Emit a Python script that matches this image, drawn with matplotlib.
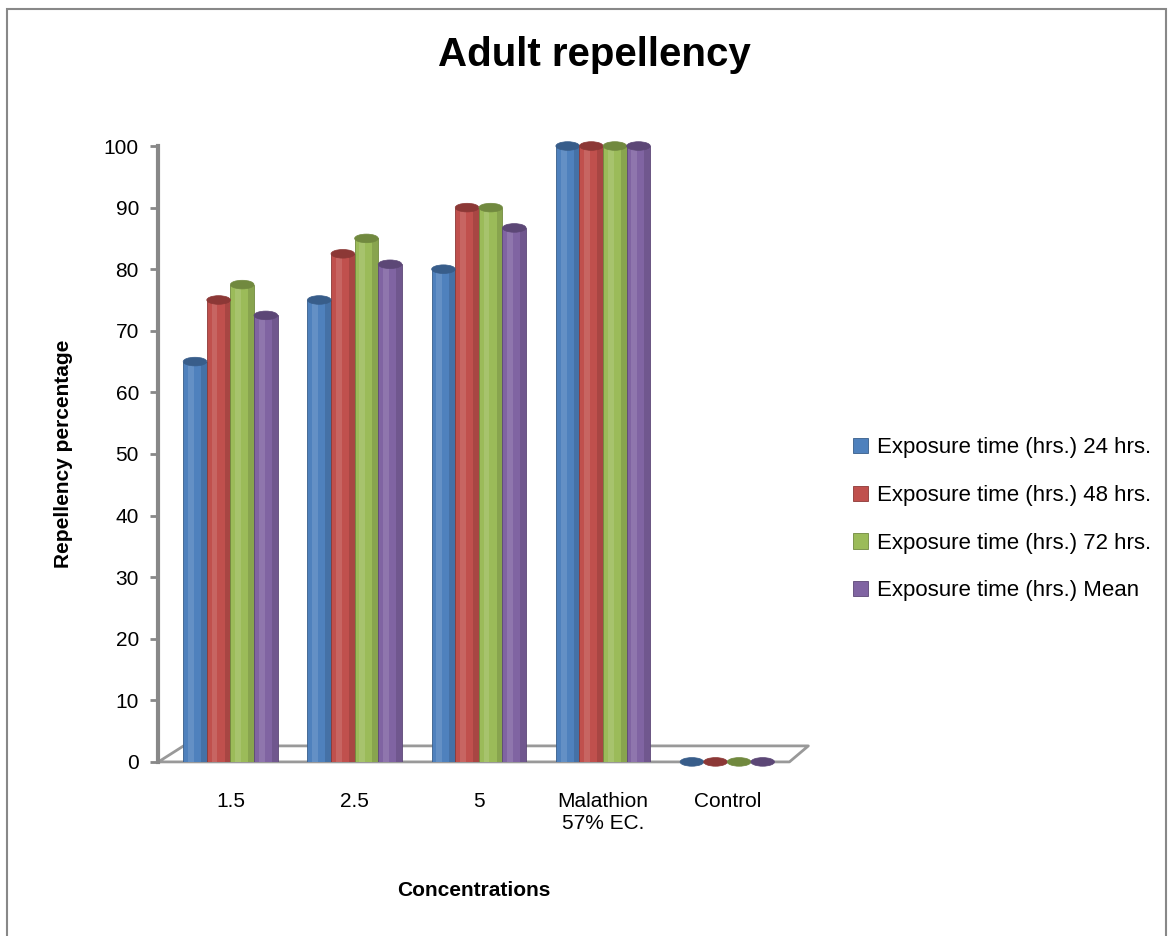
import numpy as np
import matplotlib
matplotlib.use("Agg")
import matplotlib.pyplot as plt
from matplotlib.patches import Ellipse, Rectangle

plt.rcParams['font.family'] = ['Liberation Sans Narrow', 'Liberation Sans', 'DejaVu Sans']

# data
categories = ['1.5', '2.5', '5', 'Malathion\n57% EC.', 'Control']
series_names = ['Exposure time (hrs.) 24 hrs.', 'Exposure time (hrs.) 48 hrs.',
                'Exposure time (hrs.) 72 hrs.', 'Exposure time (hrs.) Mean']
hrs_24 = [65, 75, 80, 100, 0]
hrs_48 = [75, 82.5, 90, 100, 0]
hrs_72 = [77.5, 85, 90, 100, 0]
hrs_mean = [72.5, 80.8, 86.7, 100, 0]
series = [hrs_24, hrs_48, hrs_72, hrs_mean]
colors = ['#4F81BD', '#C0504D', '#9BBB59', '#8064A2']
dark = ['#385D8A', '#8C3836', '#71893F', '#5C4776']

fig = plt.figure(figsize=(11.73, 9.36), dpi=100)
ax = fig.add_axes([0.135, 0.186, 0.538, 0.658])

x = np.arange(len(categories))
w = 0.19
for i, (vals, c, dc) in enumerate(zip(series, colors, dark)):
    pos = x + (i - 1.5) * w
    ax.bar(pos, vals, width=w, color=c, edgecolor=dc, linewidth=0.6,
           label=series_names[i], zorder=3)
    for p, v in zip(pos, vals):
        # highlight / shade strips for a cylindrical look
        ax.add_patch(Rectangle((p - w * 0.3, 0), w * 0.25, v, color='white',
                               alpha=0.12, lw=0, zorder=4))
        ax.add_patch(Rectangle((p + w * 0.25, 0), w * 0.25, v, color='black',
                               alpha=0.12, lw=0, zorder=4))
        ax.add_patch(Ellipse((p, v), w, 1.4, facecolor=dc, edgecolor=dc,
                             lw=0.5, zorder=5, clip_on=False))

ax.set_xlim(-0.58, 4.5)
ax.set_ylim(0, 100)
ax.set_yticks(range(0, 101, 10))
ax.tick_params(axis='y', labelsize=15, length=6, width=2, color='#888888', pad=8)
ax.tick_params(axis='x', length=0, labelsize=15, pad=22)
ax.set_xticks(x)
ax.set_xticklabels(categories)

for s in ['top', 'right', 'bottom']:
    ax.spines[s].set_visible(False)
ax.spines['left'].set_color('#888888')
ax.spines['left'].set_linewidth(3)

# floor of the 3D chart
ax.plot([0, 1.0, 1.03, 0.04, 0], [0, 0, 0.026, 0.026, 0], transform=ax.transAxes,
        color='#999999', lw=2, clip_on=False, zorder=2)

ax.set_xlabel('Concentrations', fontsize=15, fontweight='bold', labelpad=34)
ax.set_ylabel('Repellency percentage', fontsize=15, fontweight='bold', labelpad=22)

fig.suptitle('Adult repellency', fontsize=29, fontweight='bold', x=0.507, y=0.962)

leg = fig.legend(loc='center left', bbox_to_anchor=(0.71, 0.445), fontsize=16,
                 frameon=False, handlelength=0.7, handleheight=0.7,
                 handletextpad=0.4, labelspacing=1.2)

fig.add_artist(Rectangle((0.006, -0.01), 0.988, 1.0, transform=fig.transFigure,
                         fill=False, edgecolor='#888888', lw=1.5))

fig.savefig('out.png', dpi=100)
